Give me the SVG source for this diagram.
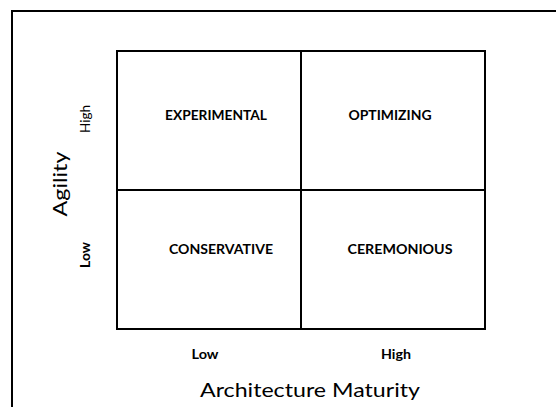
<svg xmlns="http://www.w3.org/2000/svg" width="556" height="407" viewBox="0 0 556 407">
  <style>
    .frame { fill: none; stroke: #000; stroke-width: 2; }
    .cell { fill: #fff; stroke: #000; stroke-width: 2; }
    .quad { font-family: Lato, "Liberation Sans", sans-serif; font-weight: bold; font-size: 14px; fill: #000; text-anchor: middle; }
    .tick { font-family: Lato, "Liberation Sans", sans-serif; font-size: 12.5px; fill: #000; text-anchor: middle; }
    .tickb { font-weight: bold; }
    .axis { font-family: Lato, "Liberation Sans", sans-serif; font-size: 20px; fill: #000; text-anchor: middle; }
  </style>
  <rect width="556" height="407" fill="#fff"/>

  <!-- outer frame: top and left edges only are visible -->
  <path class="frame" d="M12,408 V11 H557"/>

  <!-- quadrants -->
  <g id="experimental">
    <rect class="cell" x="117" y="51" width="184" height="139"/>
    <text class="quad" x="216" y="120" textLength="102" lengthAdjust="spacingAndGlyphs">EXPERIMENTAL</text>
  </g>
  <g id="optimizing">
    <rect class="cell" x="301" y="51" width="184" height="139"/>
    <text class="quad" x="390" y="120" textLength="83" lengthAdjust="spacingAndGlyphs">OPTIMIZING</text>
  </g>
  <g id="conservative">
    <rect class="cell" x="117" y="190" width="184" height="139"/>
    <text class="quad" x="221" y="254" textLength="104" lengthAdjust="spacingAndGlyphs">CONSERVATIVE</text>
  </g>
  <g id="ceremonious">
    <rect class="cell" x="301" y="190" width="184" height="139"/>
    <text class="quad" x="400" y="254" textLength="105" lengthAdjust="spacingAndGlyphs">CEREMONIOUS</text>
  </g>

  <!-- vertical axis -->
  <g id="axis-agility">
    <text class="axis" transform="translate(67,184) rotate(-90)" textLength="65" lengthAdjust="spacingAndGlyphs">Agility</text>
    <text class="tick" transform="translate(90,119) rotate(-90)" textLength="28" lengthAdjust="spacingAndGlyphs">High</text>
    <text class="tick tickb" transform="translate(90,255) rotate(-90)" textLength="26" lengthAdjust="spacingAndGlyphs">Low</text>
  </g>

  <!-- horizontal axis -->
  <g id="axis-maturity">
    <text class="tick tickb" x="205" y="359" textLength="27" lengthAdjust="spacingAndGlyphs">Low</text>
    <text class="tick tickb" x="396" y="359" textLength="30" lengthAdjust="spacingAndGlyphs">High</text>
    <text class="axis" x="310" y="397" textLength="220" lengthAdjust="spacingAndGlyphs">Architecture Maturity</text>
  </g>
</svg>
